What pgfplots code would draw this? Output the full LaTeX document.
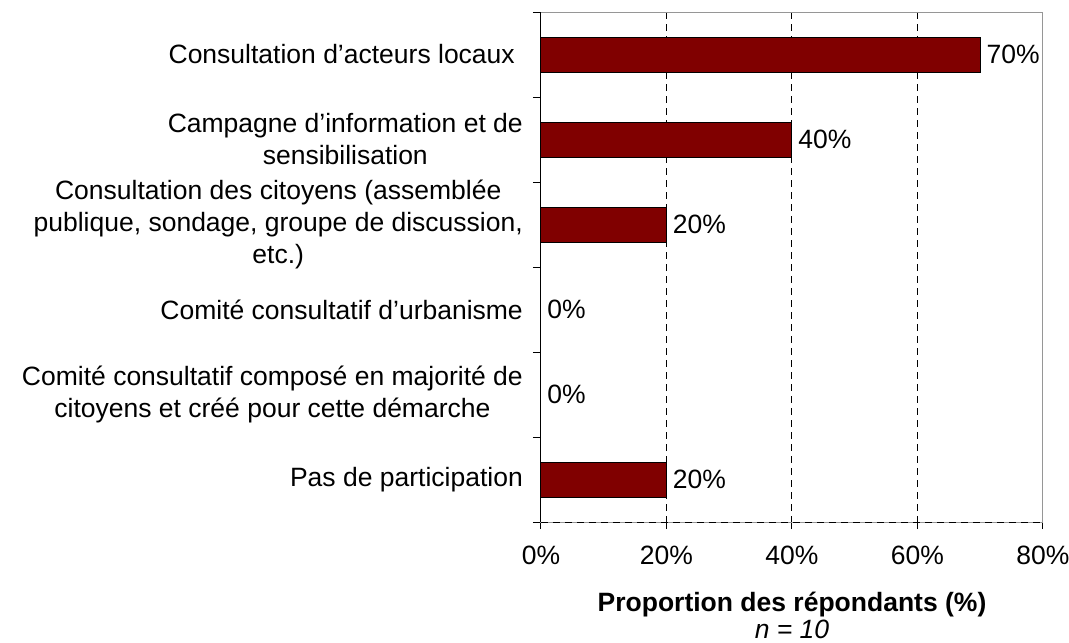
\documentclass[border=0pt]{standalone}
\usepackage{fontspec}
\setmainfont{Liberation Sans}
\usepackage{pgfplots}
\pgfplotsset{compat=1.18}
\definecolor{barred}{RGB}{128,0,0}
\definecolor{framegray}{RGB}{150,150,150}
\begin{document}
\fontsize{26.5}{30}\selectfont
\begin{tikzpicture}
\useasboundingbox (0pt,0pt) rectangle (1069pt,643pt);
\begin{axis}[
  at={(541pt,121pt)}, anchor=south west,
  scale only axis, width=502pt, height=510pt,
  xmin=0, xmax=80, ymin=-0.5, ymax=5.5, y dir=reverse,
  xbar, bar width=35pt,
  axis line style={framegray, line width=1pt},
  xtick={0,20,40,60,80},
  xticklabels={0\%,20\%,40\%,60\%,80\%},
  ytick={0,1,2,3,4,5},
  minor ytick={-0.5,0.5,1.5,2.5,3.5,4.5,5.5},
  yticklabels={
    {Consultation d’acteurs locaux\hspace*{8pt}},
    {Campagne d’information et de\\sensibilisation},
    {Consultation des citoyens (assemblée\\publique, sondage, groupe de discussion,\\etc.)},
    {Comité consultatif d’urbanisme},
    {Comité consultatif composé en majorité de\\citoyens et créé pour cette démarche},
    {Pas de participation}},
  tick align=outside,
  major tick length=7pt, minor tick length=8pt,
  tick style={black, line width=1pt},
  major y tick style={draw=none},
  xtick pos=bottom, ytick pos=left,
  yticklabel style={align=center, anchor=east, inner sep=0pt, xshift=-11pt,
    font=\fontsize{26.5}{32}\selectfont},
  xticklabel style={inner sep=0pt, anchor=north, yshift=-17pt, font=\fontsize{26.5}{30}\selectfont},
  xmajorgrids, 
  major grid style={black, line width=1pt, dash pattern=on 7pt off 5pt},
  xlabel={\bfseries Proportion des répondants (\%)},
  xlabel style={at={(axis description cs:0.5,0)}, anchor=center, yshift=-83pt,
    font=\fontsize{26.5}{30}\selectfont},
  /pgf/number format/assume math mode=true,
  point meta=x,
  nodes near coords={\pgfmathprintnumber{\pgfplotspointmeta}\%},
  nodes near coords align=horizontal,
  every node near coord/.append style={anchor=west, inner sep=0pt, xshift=6pt,
    font=\fontsize{26.5}{30}\selectfont, black},
  clip=false,
]
\addplot[fill=barred, draw=black, line width=1pt] coordinates {
  (70,0) (40,1) (20,2) (0,3) (0,4) (20,5)
};
\draw[black, line width=1pt] (axis cs:0,-0.5) -- (axis cs:0,5.5);
\draw[black, line width=1pt, dash pattern=on 7pt off 5pt] (axis cs:0,5.5) -- (axis cs:80,5.5);
\end{axis}
\node[font=\fontsize{26.5}{30}\selectfont\itshape] at (792pt,14pt) {n = 10};
\end{tikzpicture}
\end{document}
